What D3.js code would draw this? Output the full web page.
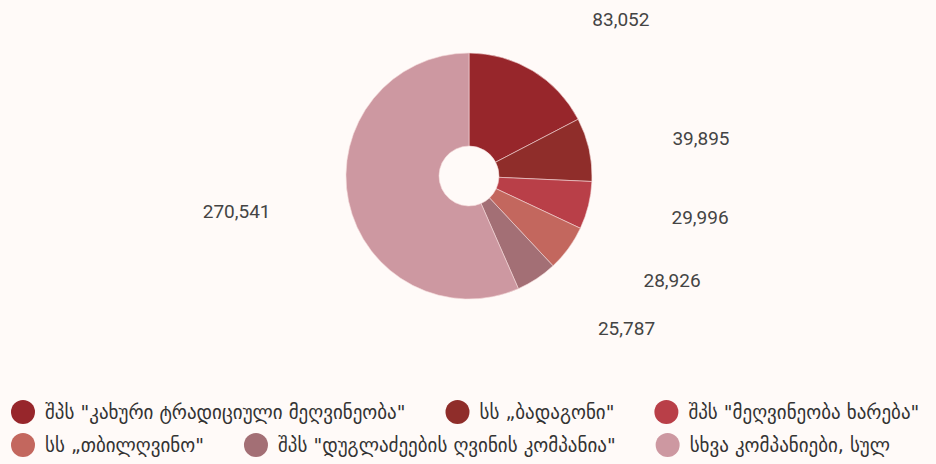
<!DOCTYPE html>
<html lang="ka">

<head>
    <meta charset="UTF-8">
    <title>Chart</title>
    <script src="https://d3js.org/d3.v7.min.js"></script>
    <style>
        body {
            margin: 0;
            padding: 0;
            background: #fffaf8;
        }

        svg {
            display: block;
        }

        .value-label {
            font: 19px Roboto, sans-serif;
            fill: #444;
        }

        .legend-label {
            font: 19px "DejaVu Sans", sans-serif;
            fill: #333;
        }
    </style>
</head>

<body>
    <svg id="chart"></svg>
    <script>
        var names = [
            "შპს \"კახური ტრადიციული მეღვინეობა\"",
            "სს „ბადაგონი\"",
            "შპს \"მეღვინეობა ხარება\"",
            "სს „თბილღვინო\"",
            "შპს \"დუგლაძეების ღვინის კომპანია\"",
            "სხვა კომპანიები, სულ"
        ];
        var values = [83052, 39895, 29996, 28926, 25787, 270541];
        var colors = ["#97262b", "#8f2d2a", "#b93f48", "#c3675e", "#a36f75", "#cd98a1"];

        var width = 936,
            height = 464;

        var svg = d3.select("#chart")
            .attr("width", width)
            .attr("height", height);

        var cx = 469, cy = 176,
            outerR = 123, innerR = 30;

        var format = d3.format(",d");

        var data = names.map(function (n, i) { return { name: n, value: values[i], color: colors[i] }; });

        var pie = d3.pie()
            .sort(null)
            .value(function (d) { return d.value; });

        var arc = d3.arc()
            .innerRadius(innerR)
            .outerRadius(outerR);

        var arcs = pie(data);

        var g = svg.append("g")
            .attr("transform", "translate(" + cx + "," + cy + ")");

        g.selectAll("path")
            .data(arcs)
            .enter().append("path")
            .attr("d", arc)
            .attr("fill", function (d) { return d.data.color; })
            .attr("stroke", "#f3d9d9")
            .attr("stroke-width", 0.6);

        // labels sit on an ellipse, pulled a bit toward the horizontal
        var rx = 236, ry = 205, squeeze = 0.85;
        function labelPos(d) {
            var a = (d.startAngle + d.endAngle) / 2;
            var side = a < Math.PI ? Math.PI / 2 : Math.PI * 1.5;
            var a2 = side + (a - side) * squeeze;
            return [rx * Math.sin(a2), -ry * Math.cos(a2)];
        }

        g.selectAll("text")
            .data(arcs)
            .enter().append("text")
            .attr("class", "value-label")
            .attr("text-anchor", "middle")
            .attr("dy", "0.35em")
            .attr("x", function (d) { return labelPos(d)[0]; })
            .attr("y", function (d) { return labelPos(d)[1]; })
            .text(function (d) { return format(d.data.value); });

        // legend, flowing left to right
        var legend = svg.append("g");
        var lx = 11, ly = 412, rowH = 33, gap = 40, dotR = 12;

        var items = legend.selectAll("g")
            .data(data)
            .enter().append("g");

        items.append("circle")
            .attr("cx", dotR)
            .attr("cy", 0)
            .attr("r", dotR)
            .attr("fill", function (d) { return d.color; });

        items.append("text")
            .attr("class", "legend-label")
            .attr("x", dotR * 2 + 10)
            .attr("dy", "0.35em")
            .text(function (d) { return d.name; });

        var x = lx, y = ly;
        items.each(function () {
            var w = dotR * 2 + 10 + d3.select(this).select("text").node().getComputedTextLength();
            if (x + w > width && x > lx) {
                x = lx;
                y += rowH;
            }
            d3.select(this).attr("transform", "translate(" + x + "," + y + ")");
            x += w + gap;
        });
    </script>
</body>

</html>
